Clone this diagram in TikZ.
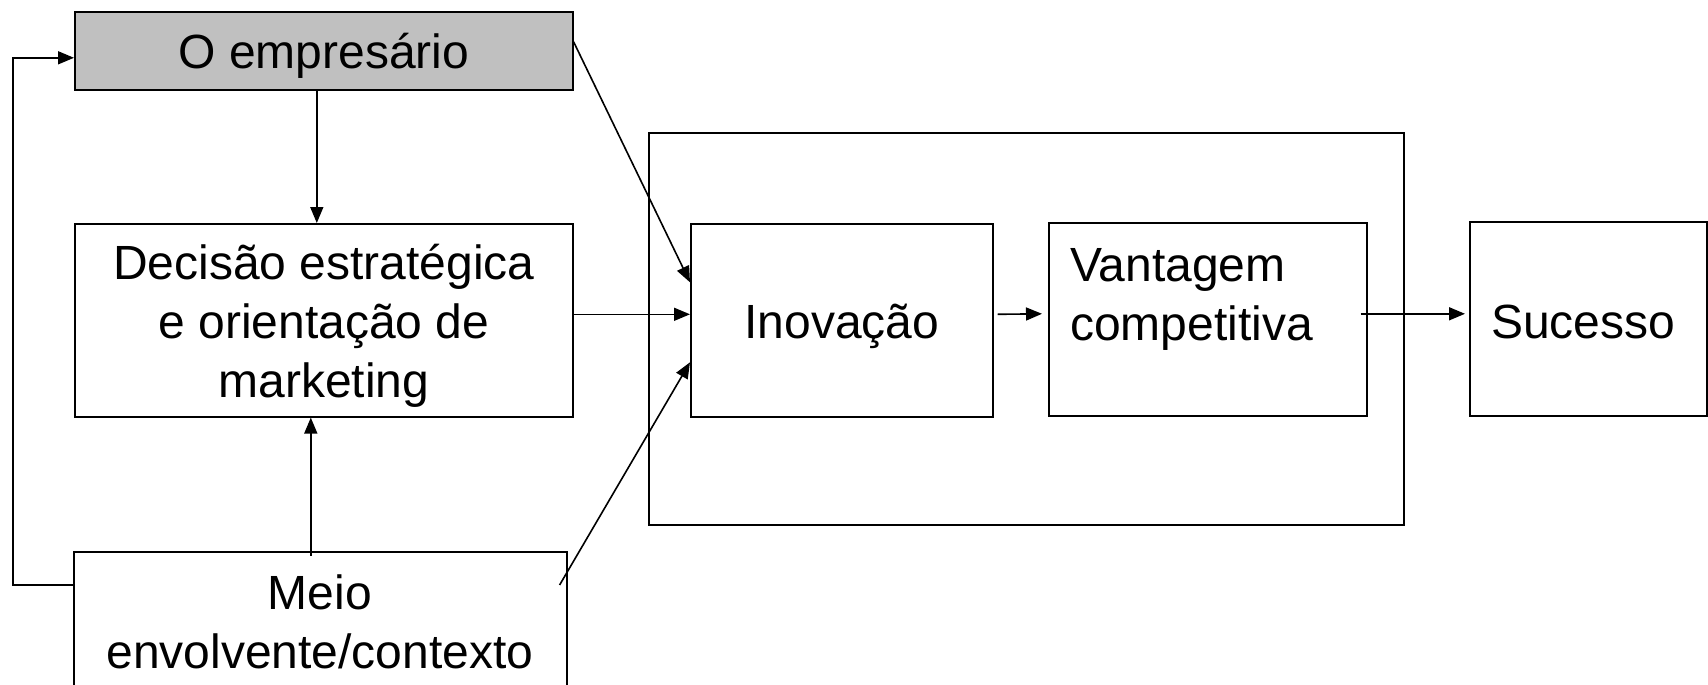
\documentclass[tikz,border=0pt]{standalone}
\usepackage{fontspec}
\setmainfont{Liberation Sans}
\usetikzlibrary{arrows.meta}
\definecolor{boxgray}{HTML}{C0C0C0}
\begin{document}
\begin{tikzpicture}[x=1pt,y=-1pt,
  box/.style={draw=black,line width=1.6pt,inner sep=0pt,anchor=north west},
  txt/.style={font=\fontsize{48}{59}\selectfont,align=center,inner sep=0pt},
  arr/.style={line width=1.6pt,-{Triangle[length=16pt,width=13pt]}}]
\useasboundingbox (0,0) rectangle (1708,685);
\node[box,minimum width=755pt,minimum height=392pt] (frame) at (648,132) {};
\node[box,fill=boxgray,minimum width=498pt,minimum height=78pt] (emp) at (74,11) {};
\node[txt] (emptxt) at ([yshift=-5pt]emp.center) {O empresário};
\node[box,minimum width=498pt,minimum height=193pt] (dec) at (74,223) {};
\node[txt] (dectxt) at ([yshift=-6pt]dec.center) {Decisão estratégica\\e orientação de\\marketing};
\node[box,minimum width=493pt,minimum height=200pt] (meio) at (73,551) {};
\node[txt] (meiotxt) at (320,622) {Meio\\envolvente/contexto};
\node[box,minimum width=302pt,minimum height=193pt] (inov) at (690,223) {};
\node[txt] (inovtxt) at ([yshift=-6pt]inov.center) {Inovação};
\node[box,minimum width=318pt,minimum height=193pt] (vant) at (1048,222) {};
\node[txt,align=left,anchor=west] (vanttxt) at (1070,299) {Vantagem\\competitiva};
\node[box,minimum width=237pt,minimum height=194pt] (suc) at (1469,221) {};
\node[txt] (suctxt) at ([xshift=-5pt,yshift=-3pt]suc.center) {Sucesso};
% connectors
\draw[arr] ([yshift=-34pt]meio.north west) -- ++(-60,0) |- ([yshift=-7pt]emp.west);
\draw[arr] ([xshift=-7pt]emp.south) -- ([xshift=-7pt]dec.north);
\draw[arr] ([xshift=-9.5pt,yshift=-5pt]meio.north) -- ([xshift=-13pt]dec.south);
\draw[arr] ([yshift=9pt]emp.east) -- ([yshift=38pt]inov.west);
\draw[arr] ([yshift=6pt]dec.east) -- ([yshift=6pt]inov.west);
\draw[arr] ([xshift=-8pt,yshift=-34pt]meio.north east) -- ([yshift=-42pt]inov.west);
\draw[arr] ([xshift=4pt,yshift=6pt]inov.east) -- ([xshift=-6pt,yshift=5.5pt]vant.west);
\draw[arr] ([xshift=-7pt,yshift=5.5pt]vant.east) -- ([xshift=-4pt,yshift=5pt]suc.west);
\end{tikzpicture}
\end{document}
